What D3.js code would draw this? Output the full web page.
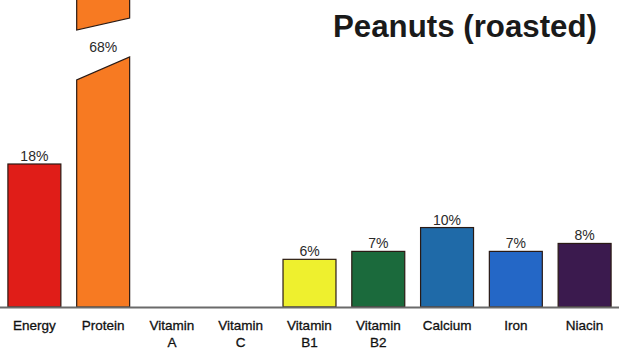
<!DOCTYPE html>
<html>
<head>
<meta charset="utf-8">
<script src="https://cdn.jsdelivr.net/npm/d3@7"></script>
<style>
  body { margin: 0; background: #fff; }
  svg { display: block; }
</style>
</head>
<body>
<div id="chart"></div>
<script>
// Chart data
var nutrients = ["Energy", "Protein", "Vitamin A", "Vitamin C", "Vitamin B1", "Vitamin B2", "Calcium", "Iron", "Niacin"];
var labelLines = [["Energy"], ["Protein"], ["Vitamin", "A"], ["Vitamin", "C"], ["Vitamin", "B1"], ["Vitamin", "B2"], ["Calcium"], ["Iron"], ["Niacin"]];
var percents = [18, 68, 0, 0, 6, 7, 10, 7, 8];
var barColors = ["#e01d18", "#f77a22", "#ffffff", "#ffffff", "#eef02e", "#1b6a3c", "#1f6aa8", "#2467c6", "#3b1a4e"];

var width = 619, height = 355;
var baseline = 307;

var svg = d3.select("#chart")
    .append("svg")
        .attr("width", width)
        .attr("height", height);

// scales
var xScale = d3.scaleBand()
    .domain(nutrients)
    .range([0, width])
    .paddingInner(0.23)
    .paddingOuter(0.115);

var yScale = d3.scaleLinear()
    .domain([0, 18])
    .range([baseline, 164]);

var rows = nutrients.map(function(n, i) {
  return {name: n, value: percents[i], color: barColors[i], lines: labelLines[i]};
});

// title
svg.append("text")
    .attr("x", 597)
    .attr("y", 37)
    .attr("text-anchor", "end")
    .attr("font-family", "Liberation Sans, Arial, sans-serif")
    .attr("font-weight", "bold")
    .attr("font-size", "31px")
    .attr("textLength", 264)
    .attr("lengthAdjust", "spacingAndGlyphs")
    .attr("fill", "#1a1a1a")
    .text("Peanuts (roasted)");

// normal bars (the off-scale one is drawn broken below)
var normal = rows.filter(function(d) { return d.value > 0 && d.value <= 18; });
svg.append("g")
    .selectAll("rect")
    .data(normal)
    .enter()
    .append("rect")
        .attr("x", function(d) { return xScale(d.name); })
        .attr("y", function(d) { return yScale(d.value); })
        .attr("width", xScale.bandwidth())
        .attr("height", function(d) { return baseline - yScale(d.value); })
        .attr("fill", function(d) { return d.color; })
        .attr("stroke", "#2a1a14")
        .attr("stroke-width", 1.2);

// broken bar for values beyond the axis
var broken = rows.filter(function(d) { return d.value > 18; });
broken.forEach(function(d) {
  var x0 = xScale(d.name), x1 = x0 + xScale.bandwidth();
  var top = Math.max(yScale(d.value), -2);
  var lower = [[x0, baseline], [x0, 80], [x1, 57], [x1, baseline]];
  var upper = [[x0, top], [x1, top], [x1, 18], [x0, 30]];
  [lower, upper].forEach(function(pts) {
    svg.append("polygon")
        .attr("points", pts.map(function(p) { return p.join(","); }).join(" "))
        .attr("fill", d.color)
        .attr("stroke", "#2a1a14")
        .attr("stroke-width", 1.2);
  });
  svg.append("text")
      .attr("x", x0 + xScale.bandwidth() / 2)
      .attr("y", 52)
      .attr("text-anchor", "middle")
      .attr("font-family", "Liberation Sans, Arial, sans-serif")
      .attr("font-size", "14px")
      .attr("fill", "#2a2a2a")
      .text(d.value + "%");
});

// value labels
svg.append("g")
    .selectAll("text")
    .data(normal)
    .enter()
    .append("text")
        .attr("x", function(d) { return xScale(d.name) + xScale.bandwidth() / 2; })
        .attr("y", function(d) { return yScale(d.value) - 3; })
        .attr("text-anchor", "middle")
        .attr("font-family", "Liberation Sans, Arial, sans-serif")
        .attr("font-size", "14px")
        .attr("fill", "#2a2a2a")
        .text(function(d) { return d.value + "%"; });

// baseline
svg.append("line")
    .attr("x1", 0)
    .attr("x2", width)
    .attr("y1", baseline + 0.5)
    .attr("y2", baseline + 0.5)
    .attr("stroke", "#6a6a6a")
    .attr("stroke-width", 2);

// category labels
var cat = svg.append("g")
    .selectAll("text")
    .data(rows)
    .enter()
    .append("text")
        .attr("x", function(d) { return xScale(d.name) + xScale.bandwidth() / 2; })
        .attr("y", 330)
        .attr("text-anchor", "middle")
        .attr("font-family", "Liberation Sans, Arial, sans-serif")
        .attr("font-size", "13.5px")
        .attr("fill", "#111")
        .attr("stroke", "#111")
        .attr("stroke-width", 0.3);

cat.selectAll("tspan")
    .data(function(d) { return d.lines; })
    .enter()
    .append("tspan")
        .attr("x", function() { var p = d3.select(this.parentNode).datum(); return xScale(p.name) + xScale.bandwidth() / 2; })
        .attr("dy", function(l, i) { return i === 0 ? 0 : 17; })
        .text(function(l) { return l; });
</script>
</body>
</html>
